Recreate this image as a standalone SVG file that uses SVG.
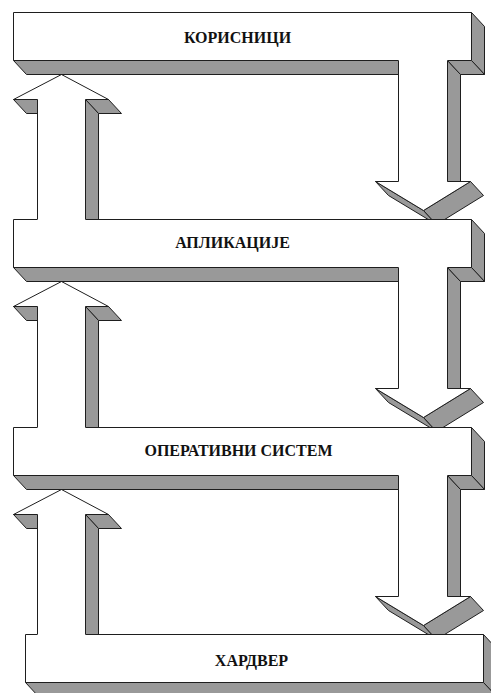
<svg xmlns="http://www.w3.org/2000/svg" width="491" height="693" viewBox="0 0 491 693">
  <style>
    .face{fill:#ffffff;stroke:none}
    .edge{fill:none;stroke:#1e1e1e;stroke-width:1;stroke-linejoin:miter}
    .side{fill:#999999;stroke:#1e1e1e;stroke-width:1;stroke-linejoin:round}
    .label{font-family:"Liberation Serif","Times New Roman",serif;font-weight:bold;font-size:16px;fill:#111111;text-anchor:middle}
  </style>
  <rect width="491" height="693" fill="#ffffff"/>
  <g transform="translate(0.5,0.5)">
    <!-- block arrows (drawn first so each layer slab hides the arrow tips behind it) -->
    <g id="connectors">
      <!-- downward flow on the right -->
      <g id="down-1">
        <polygon class="side" points="375,181 423,210 436,224 388,195"/>
        <polygon class="side" points="470,181 423,210 436,224 483,195"/>
        <polygon class="side" points="447,60 460,74 460,181 447,181"/>
        <polygon class="face" points="398,60 398,181 375,181 423,210 470,181 447,181 447,60"/>
        <polyline class="edge" points="398,60 398,181 375,181 423,210 470,181 447,181 447,60"/>
      </g>
      <g id="down-2">
        <polygon class="side" points="375,388 423,417 436,431 388,402"/>
        <polygon class="side" points="470,388 423,417 436,431 483,402"/>
        <polygon class="side" points="447,267 460,281 460,388 447,388"/>
        <polygon class="face" points="398,267 398,388 375,388 423,417 470,388 447,388 447,267"/>
        <polyline class="edge" points="398,267 398,388 375,388 423,417 470,388 447,388 447,267"/>
      </g>
      <g id="down-3">
        <polygon class="side" points="375,596 423,625 436,639 388,610"/>
        <polygon class="side" points="470,596 423,625 436,639 483,610"/>
        <polygon class="side" points="447,475 460,489 460,596 447,596"/>
        <polygon class="face" points="398,475 398,596 375,596 423,625 470,596 447,596 447,475"/>
        <polyline class="edge" points="398,475 398,596 375,596 423,625 470,596 447,596 447,475"/>
      </g>
      <!-- upward flow on the left -->
      <g id="up-1">
        <polygon class="side" points="13,99 37,99 50,113 26,113"/>
        <polygon class="side" points="85,99 108,99 121,113 98,113"/>
        <polygon class="side" points="85,99 98,113 98,219 85,219"/>
        <polygon class="face" points="37,219 37,99 13,99 61,74 108,99 85,99 85,219"/>
        <polyline class="edge" points="37,219 37,99 13,99 61,74 108,99 85,99 85,219"/>
      </g>
      <g id="up-2">
        <polygon class="side" points="13,306 37,306 50,320 26,320"/>
        <polygon class="side" points="85,306 108,306 121,320 98,320"/>
        <polygon class="side" points="85,306 98,320 98,427 85,427"/>
        <polygon class="face" points="37,427 37,306 13,306 61,281 108,306 85,306 85,427"/>
        <polyline class="edge" points="37,427 37,306 13,306 61,281 108,306 85,306 85,427"/>
      </g>
      <g id="up-3">
        <polygon class="side" points="13,514 37,514 50,528 26,528"/>
        <polygon class="side" points="85,514 108,514 121,528 98,528"/>
        <polygon class="side" points="85,514 98,528 98,634 85,634"/>
        <polygon class="face" points="37,634 37,514 13,514 61,489 108,514 85,514 85,634"/>
        <polyline class="edge" points="37,634 37,514 13,514 61,489 108,514 85,514 85,634"/>
      </g>
    </g>

    <!-- layer slabs -->
    <g id="users">
      <polygon class="side" points="471,12 484,26 484,74 471,60"/>
      <polygon class="side" points="13,60 398,60 398,74 26,74"/>
      <polygon class="side" points="447,60 471,60 484,74 460,74"/>
      <rect class="face" x="13" y="12" width="458" height="48"/>
      <path class="edge" d="M398 60H13V12H471V60H447"/>
      <text class="label" x="237" y="42">КОРИСНИЦИ</text>
    </g>
    <g id="applications">
      <polygon class="side" points="471,219 484,233 484,281 471,267"/>
      <polygon class="side" points="13,267 398,267 398,281 26,281"/>
      <polygon class="side" points="447,267 471,267 484,281 460,281"/>
      <rect class="face" x="13" y="219" width="458" height="48"/>
      <path class="edge" d="M37 219H13V267H398M447 267H471V219H85"/>
      <text class="label" x="232" y="247">АПЛИКАЦИЈЕ</text>
    </g>
    <g id="operating-system">
      <polygon class="side" points="471,427 484,441 484,489 471,475"/>
      <polygon class="side" points="13,475 398,475 398,489 26,489"/>
      <polygon class="side" points="447,475 471,475 484,489 460,489"/>
      <rect class="face" x="13" y="427" width="458" height="48"/>
      <path class="edge" d="M37 427H13V475H398M447 475H471V427H85"/>
      <text class="label" x="238" y="455">ОПЕРАТИВНИ СИСТЕМ</text>
    </g>
    <g id="hardware">
      <polygon class="side" points="483,634 496,648 496,696 483,682"/>
      <polygon class="side" points="25,682 483,682 496,696 38,696"/>
      <rect class="face" x="25" y="634" width="458" height="48"/>
      <path class="edge" d="M37 634H25V682H483V634H85"/>
      <text class="label" x="251" y="665">ХАРДВЕР</text>
    </g>
  </g>
</svg>
